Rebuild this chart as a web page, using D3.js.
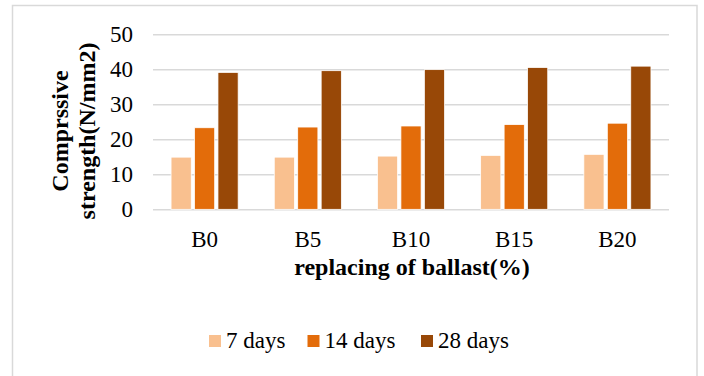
<!DOCTYPE html>
<html>
<head>
<meta charset="utf-8">
<script src="https://cdn.jsdelivr.net/npm/d3@7"></script>
<style>
  html, body { margin: 0; padding: 0; background: #fff; }
  svg { display: block; }
</style>
</head>
<body>
<svg id="chart" width="704" height="376"></svg>
<script>
// Mix codes and curing ages
const categories = ["B0", "B5", "B10", "B15", "B20"];
const seriesNames = ["7 days", "14 days", "28 days"];
const days7  = [14.9, 14.9, 15.2, 15.4, 15.7];
const days14 = [23.3, 23.5, 23.8, 24.2, 24.6];
const days28 = [39.1, 39.6, 39.9, 40.5, 40.9];
const yTicks = [0, 10, 20, 30, 40, 50];
const colors = ["#F9C08F", "#E36C0A", "#984807"];

const FONT = "'Liberation Serif', 'Times New Roman', Tinos, FreeSerif";

const seriesValues = [days7, days14, days28];
const rows = categories.map((c, i) => ({
  cat: c,
  vals: seriesNames.map((s, k) => ({ key: s, value: seriesValues[k][i], color: colors[k] }))
}));

const svg = d3.select("#chart");

// Outer chart frame
svg.append("rect")
  .attr("x", 12.5).attr("y", 5.5)
  .attr("width", 684.5).attr("height", 400)
  .attr("fill", "#fff")
  .attr("stroke", "#d9d9d9").attr("stroke-width", 1.5);

const plotLeft = 153, plotRight = 669, plotTop = 34.3, plotBottom = 209.3;

const x0 = d3.scaleBand().domain(categories).range([plotLeft, plotRight])
  .paddingInner(0.35).paddingOuter(0.175);
const x1 = d3.scaleBand().domain(seriesNames).range([0, x0.bandwidth()])
  .paddingInner(0.14);
const y = d3.scaleLinear().domain([0, 50]).range([plotBottom, plotTop]);

// Gridlines and value labels
const yAxis = svg.append("g")
  .attr("transform", `translate(${plotLeft},0)`)
  .call(d3.axisLeft(y).tickValues(yTicks).tickSize(-(plotRight - plotLeft)).tickPadding(20));
yAxis.select(".domain").remove();
yAxis.attr("font-family", FONT).attr("font-size", 23);
yAxis.selectAll(".tick line").attr("stroke", "#d9d9d9").attr("stroke-width", 1.5);
yAxis.selectAll(".tick text").attr("fill", "#000");

// Bars
const groups = svg.append("g").selectAll("g")
  .data(rows).join("g")
  .attr("transform", d => `translate(${x0(d.cat)},0)`);
groups.selectAll("rect")
  .data(d => d.vals).join("rect")
  .attr("x", d => x1(d.key))
  .attr("y", d => y(d.value))
  .attr("width", x1.bandwidth())
  .attr("height", d => y(0) - y(d.value))
  .attr("fill", d => d.color)
  .attr("stroke", "#fff").attr("stroke-width", 0.75);

// Category labels
const xAxis = svg.append("g")
  .attr("transform", `translate(0,${plotBottom})`)
  .call(d3.axisBottom(x0).tickSize(0).tickPadding(21));
xAxis.select(".domain").remove();
xAxis.attr("font-family", FONT).attr("font-size", 23);
xAxis.selectAll(".tick text").attr("fill", "#000");

// Axis titles
svg.append("text")
  .attr("x", 412).attr("y", 275)
  .attr("text-anchor", "middle")
  .attr("font-family", FONT)
  .attr("font-size", 24).attr("font-weight", "bold")
  .text("replacing of ballast(%)");

const yTitle = svg.append("text")
  .attr("transform", "translate(0,131) rotate(-90)")
  .attr("text-anchor", "middle")
  .attr("font-family", FONT)
  .attr("font-size", 24).attr("font-weight", "bold");
yTitle.append("tspan").attr("x", 0).attr("y", 68).text("Comprssive");
yTitle.append("tspan").attr("x", 0).attr("y", 95).text("strength(N/mm2)");

// Legend
const legendX = [209, 307.5, 421];
const legend = svg.append("g").selectAll("g")
  .data(seriesNames).join("g")
  .attr("transform", (d, i) => `translate(${legendX[i]},335)`);
legend.append("rect")
  .attr("width", 12).attr("height", 12)
  .attr("fill", (d, i) => colors[i]);
legend.append("text")
  .attr("x", 17).attr("y", 12.5)
  .attr("font-family", FONT)
  .attr("font-size", 23)
  .text(d => d);
</script>
</body>
</html>
